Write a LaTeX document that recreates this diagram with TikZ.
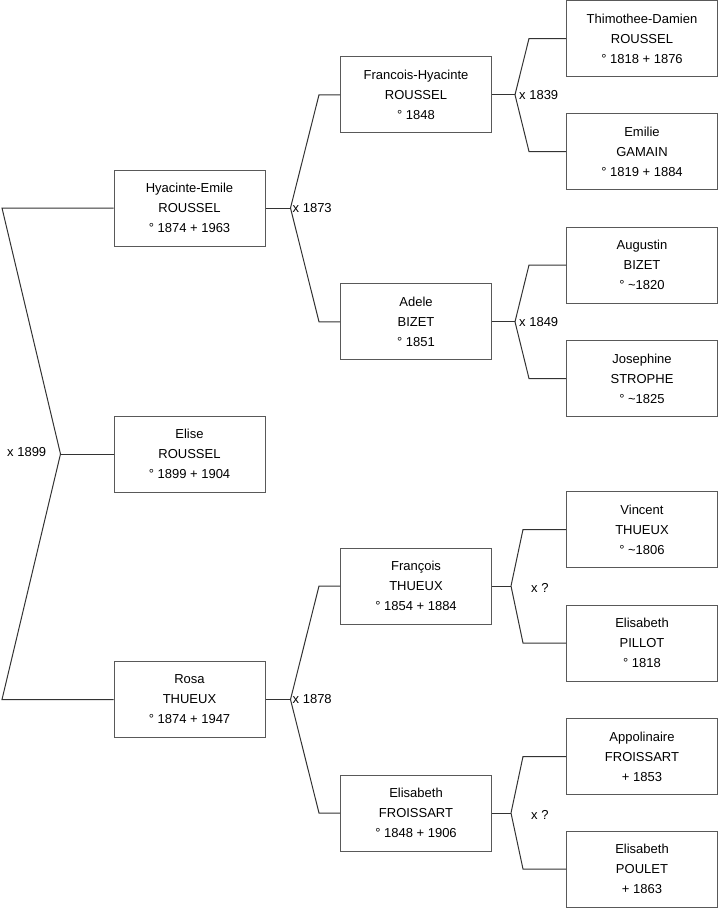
\documentclass[tikz,border=0pt]{standalone}
\usepackage{fontspec}
\setmainfont{Liberation Sans}
\begin{document}
\begin{tikzpicture}[x=1pt,y=-1pt,
  person/.style={draw=black!65,line width=1pt,minimum width=151pt,minimum height=76pt,inner sep=0pt,align=center,font=\fontsize{13}{20}\selectfont},
  link/.style={draw=black!80,line width=1pt},
  lbl/.style={anchor=west,inner sep=0pt,font=\fontsize{13}{16}\selectfont}]
\useasboundingbox (0,0) rectangle (719,908);
% column 1
\node[person] (hy) at (189.5,208) {Hyacinte-Emile\\ROUSSEL\\° 1874 + 1963};
\node[person] (el) at (189.5,454) {Elise\\ROUSSEL\\° 1899 + 1904};
\node[person] (ro) at (189.5,699.5) {Rosa\\THUEUX\\° 1874 + 1947};
% column 2
\node[person] (fh) at (416,94.75) {Francois-Hyacinte\\ROUSSEL\\° 1848};
\node[person] (ad) at (416,321.75) {Adele\\BIZET\\° 1851};
\node[person] (ft) at (416,586) {François\\THUEUX\\° 1854 + 1884};
\node[person] (ef) at (416,813) {Elisabeth\\FROISSART\\° 1848 + 1906};
% column 3
\node[person] (td) at (642,38.5) {Thimothee-Damien\\ROUSSEL\\° 1818 + 1876};
\node[person] (eg) at (642,151.5) {Emilie\\GAMAIN\\° 1819 + 1884};
\node[person] (ab) at (642,265) {Augustin\\BIZET\\° \textasciitilde1820};
\node[person] (js) at (642,378.5) {Josephine\\STROPHE\\° \textasciitilde1825};
\node[person] (vt) at (642,529.5) {Vincent\\THUEUX\\° \textasciitilde1806};
\node[person] (ep) at (642,643) {Elisabeth\\PILLOT\\° 1818};
\node[person] (af) at (642,756.5) {Appolinaire\\FROISSART\\+ 1853};
\node[person] (eo) at (642,869) {Elisabeth\\POULET\\+ 1863};
% left bracket
\coordinate (m0) at ([xshift=-53pt]el.west);
\coordinate (t0) at (hy.west -| 2,0);
\coordinate (b0) at (ro.west -| 2,0);
\draw[link] (hy.west) -- (t0) -- (m0) -- (b0) -- (ro.west);
\draw[link] (m0) -- (el.west);
\node[lbl] (l0) at (7,452) {x 1899};
% hy -> fh, ad
\coordinate (m1) at ([xshift=25pt]hy.east);
\draw[link] (hy.east) -- (m1);
\draw[link] (m1) -- ([xshift=-21pt]fh.west) -- (fh.west);
\draw[link] (m1) -- ([xshift=-21pt]ad.west) -- (ad.west);
\node[lbl] (l1) at ([xshift=2pt]m1) {x 1873};
% ro -> ft, ef
\coordinate (m2) at ([xshift=25pt]ro.east);
\draw[link] (ro.east) -- (m2);
\draw[link] (m2) -- ([xshift=-21pt]ft.west) -- (ft.west);
\draw[link] (m2) -- ([xshift=-21pt]ef.west) -- (ef.west);
\node[lbl] (l2) at ([xshift=2pt]m2) {x 1878};
% fh -> td, eg
\coordinate (m3) at ([xshift=23pt]fh.east);
\draw[link] (fh.east) -- (m3);
\draw[link] (m3) -- ([xshift=-37pt]td.west) -- (td.west);
\draw[link] (m3) -- ([xshift=-37pt]eg.west) -- (eg.west);
\node[lbl] (l3) at ([xshift=4pt]m3) {x 1839};
% ad -> ab, js
\coordinate (m4) at ([xshift=23pt]ad.east);
\draw[link] (ad.east) -- (m4);
\draw[link] (m4) -- ([xshift=-37pt]ab.west) -- (ab.west);
\draw[link] (m4) -- ([xshift=-37pt]js.west) -- (js.west);
\node[lbl] (l4) at ([xshift=4pt]m4) {x 1849};
% ft -> vt, ep
\coordinate (m5) at ([xshift=19pt]ft.east);
\draw[link] (ft.east) -- (m5);
\draw[link] (m5) -- ([xshift=-43pt]vt.west) -- (vt.west);
\draw[link] (m5) -- ([xshift=-43pt]ep.west) -- (ep.west);
\node[lbl] (l5) at ([xshift=20pt,yshift=-2pt]m5) {x ?};
% ef -> af, eo
\coordinate (m6) at ([xshift=19pt]ef.east);
\draw[link] (ef.east) -- (m6);
\draw[link] (m6) -- ([xshift=-43pt]af.west) -- (af.west);
\draw[link] (m6) -- ([xshift=-43pt]eo.west) -- (eo.west);
\node[lbl] (l6) at ([xshift=20pt,yshift=-2pt]m6) {x ?};
\end{tikzpicture}
\end{document}
